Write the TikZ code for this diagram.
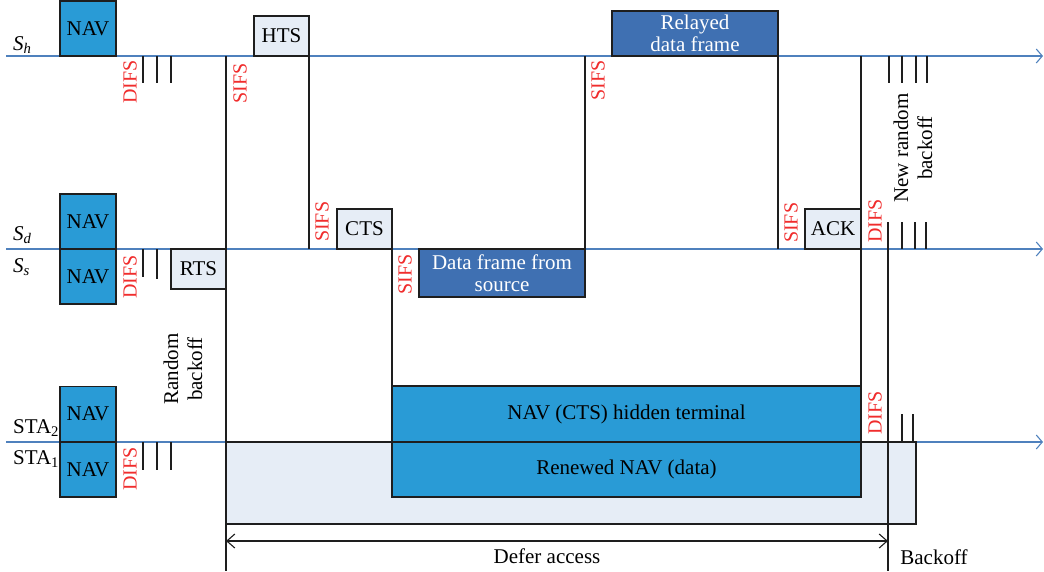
\documentclass[tikz,border=0pt]{standalone}
\usepackage{fontspec}
\setmainfont{Liberation Serif}
\usetikzlibrary{arrows.meta}
\definecolor{lineblue}{RGB}{79,129,189}
\definecolor{navblue}{RGB}{41,155,214}
\definecolor{darkblue}{RGB}{63,112,178}
\definecolor{lightfill}{RGB}{230,237,246}
\definecolor{labred}{RGB}{240,45,45}
\definecolor{edge}{RGB}{30,30,30}
\newcommand\myboxfont{\fontsize{21}{22}\selectfont}
\newcommand\myredfont{\fontsize{20}{21}\selectfont}
\begin{document}
\begin{tikzpicture}[x=1pt,y=-1pt,
  timeline/.style={draw=lineblue, line width=1.3pt, -{Straight Barb[length=6pt,width=14pt,line width=1.1pt]}},
  box/.style={draw=edge, line width=1.3pt, inner sep=0pt, outer sep=0pt, anchor=center, font=\myboxfont},
  nav/.style={box, fill=navblue, minimum width=56pt, minimum height=55pt},
  ctl/.style={box, fill=lightfill, minimum width=55pt, minimum height=40pt},
  dat/.style={box, fill=darkblue, text=white, align=center, minimum width=166pt},
  vline/.style={draw=edge, line width=1.3pt},
  lbl/.style={text=labred, rotate=90, inner sep=0pt, font=\myredfont},
  txt/.style={inner sep=0pt, font=\myboxfont},
]
\useasboundingbox (0,0) rectangle (1044,571);

% time lines
\coordinate (hS) at (6,56);  \coordinate (hE) at (1043,56);
\coordinate (dS) at (6,249); \coordinate (dE) at (1043,249);
\coordinate (tS) at (6,442); \coordinate (tE) at (1043,442);
\draw[timeline] (hS) -- (hE);
\draw[timeline] (dS) -- (dE);
\draw[timeline] (tS) -- (tE);

% station labels
\node[txt, anchor=base west] (lh) at (13,50) {\itshape S\textsubscript{h}};
\node[txt, anchor=base west] (ld) at (13,240) {\itshape S\textsubscript{d}};
\node[txt, anchor=base west] (ls) at (13,272) {\itshape S\textsubscript{s}};
\node[txt, anchor=base west] (l2) at (13,433) {STA\textsubscript{2}};
\node[txt, anchor=base west] (l1) at (13,464) {STA\textsubscript{1}};

% defer background
\node[box, fill=lightfill, minimum width=690pt, minimum height=82pt] (defbg) at (571,483) {};

% NAV boxes
\node[nav] (navh) at (88,28.5) {NAV};
\node[nav] (navd) at (88,221.5) {NAV};
\node[nav] (navs) at (88,276.5) {NAV};
\node[nav] (nav2) at (88,414) {NAV};
\node[nav] (nav1) at (88,469.5) {NAV};

% control frames
\node[ctl] (rts) at (198.5,269) {RTS};
\node[ctl] (hts) at (281.5,36) {HTS};
\node[ctl] (cts) at (364.5,229) {CTS};
\node[ctl, minimum width=56pt] (ack) at (833,229) {ACK};

% data frames
\node[dat, minimum height=48pt] (dsrc) at (502,273) {Data frame from\\source};
\node[dat, minimum height=45pt] (drel) at (695,33.5) {Relayed\\data frame};

% NAV on STA
\node[nav, minimum width=469pt, minimum height=56pt] (navcts) at (626.5,414) {NAV (CTS) hidden terminal};
\node[nav, minimum width=469pt, minimum height=55pt] (navren) at (626.5,469.5) {Renewed NAV (data)};

% vertical lines
\draw[vline] (rts.east |- hS) -- (226,571);
\draw[vline] (hts.south east) -- (hts.south east |- dS);
\draw[vline] (cts.south east) -- (cts.south east |- navcts.north);
\draw[vline] (dsrc.north east |- hS) -- (dsrc.north east);
\draw[vline] (drel.south east) -- (drel.south east |- dS);
\draw[vline] (navren.south east |- hS) -- (navren.south east);
\draw[vline] (888,222) -- (888,571);

% DIFS / backoff ticks
\foreach \x in {143,157,171} \draw[vline] (\x,56) -- (\x,83);
\draw[vline] (143,249) -- (143,277);
\draw[vline] (157,249) -- (157,279);
\foreach \x in {143,157,171} \draw[vline] (\x,442) -- (\x,470);
\foreach \x in {889,902,916,927} \draw[vline] (\x,56) -- (\x,83);
\foreach \x in {902,915,926} \draw[vline] (\x,222) -- (\x,249);
\foreach \x in {902,913} \draw[vline] (\x,414) -- (\x,442);

% interframe space labels
\node[lbl, anchor=east] (difsh) at (130,60) {DIFS};
\node[lbl, anchor=east] (sifsh1) at (240,63) {SIFS};
\node[lbl, anchor=east] (difss) at (130,255) {DIFS};
\node[lbl, anchor=east] (difs1) at (130,447) {DIFS};
\node[lbl, anchor=west] (sifsd1) at (322,242) {SIFS};
\node[lbl, anchor=east] (sifss) at (405,254) {SIFS};
\node[lbl, anchor=east] (sifsh2) at (598,60) {SIFS};
\node[lbl, anchor=west] (sifsd2) at (791,243) {SIFS};
\node[lbl, anchor=west] (difsd) at (875,243) {DIFS};
\node[lbl, anchor=west] (difs2) at (875,435) {DIFS};

% backoff labels
\node[txt, rotate=90, align=center, font=\fontsize{21}{24}\selectfont] (rb) at (183,369) {Random\\backoff};
\node[txt, rotate=90, align=center, font=\fontsize{21}{24}\selectfont] (nrb) at (913,148) {New random\\backoff};

% defer access
\coordinate (da1) at (226,541);
\coordinate (da2) at (888,541);
\draw[draw=edge, line width=1.1pt, {Straight Barb[length=8pt,width=14pt]}-{Straight Barb[length=8pt,width=14pt]}] (da1) -- (da2);
\node[txt] (defer) at (547,556) {Defer access};
\node[txt] (backoff) at (934,557) {Backoff};
\end{tikzpicture}
\end{document}
